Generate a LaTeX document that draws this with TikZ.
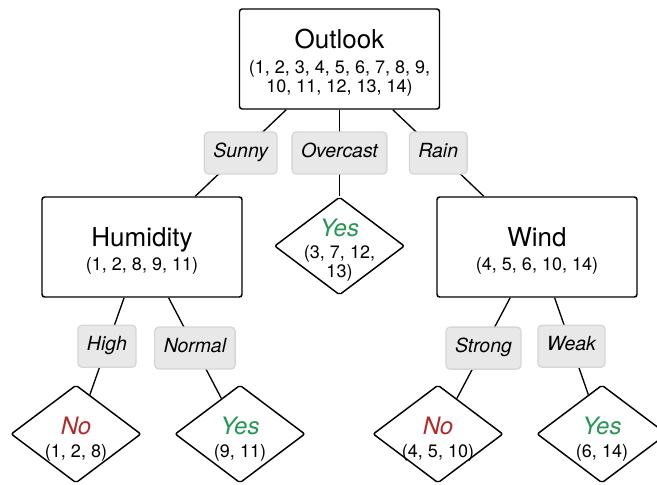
\documentclass[tikz,border=0pt]{standalone}
\usepackage{fontspec}
\setmainfont{TeX Gyre Heros}
\usetikzlibrary{shapes.geometric}

\definecolor{yesgreen}{RGB}{40,150,85}
\definecolor{nored}{RGB}{178,42,42}
\newcommand{\nodetitle}{\fontsize{19.5}{22}\selectfont\rule{0pt}{20pt}}
\newcommand{\leaftitle}{\fontsize{18}{20}\selectfont\itshape}

\tikzset{every picture/.style={line width=0.75pt}}
\tikzset{
  attrbox/.style={draw, line width=1.1pt, rounded corners=2pt, minimum width=150pt, minimum height=75pt, inner sep=0pt, align=center, font=\fontsize{13.5}{14.5}\selectfont},
  leafbox/.style={draw, diamond, line width=1.1pt, rounded corners=1.5pt, minimum width=97.5pt, minimum height=73.5pt, inner sep=0pt},
  leaftext/.style={align=center, inner sep=0pt, font=\fontsize{13.5}{14.5}\selectfont},
  branch/.style={draw=black!16, fill=black!9, rounded corners=3pt, text height=11pt, text depth=4pt, minimum height=31.5pt, inner xsep=6.75pt, inner ysep=0pt, font=\fontsize{14.6}{16}\selectfont\itshape},
  edge/.style={line width=1pt},
}

\begin{document}
\begin{tikzpicture}[x=0.75pt,y=0.75pt,yscale=-1,xscale=1]
\useasboundingbox (0,0) rectangle (657,485);

% Attribute Nodes
\node[attrbox] (outlook) at (339.5,59) {{\nodetitle Outlook}\\[4pt](1, 2, 3, 4, 5, 6, 7, 8, 9,\\10, 11, 12, 13, 14)};
\node[attrbox] (humidity) at (142,247) {{\nodetitle Humidity}\\[3pt](1, 2, 8, 9, 11)};
\node[attrbox] (wind) at (537,247) {{\nodetitle Wind}\\[3pt](4, 5, 6, 10, 14)};

% Leaf Nodes
\node[leafbox] (overcastyes) at (339.5,246) {};
\node[leaftext] at (339.5,250) {{\leaftitle\color{yesgreen}Yes}\\[2pt](3, 7, 12,\\13)};
\node[leafbox] (highno) at (76,434) {};
\node[leaftext] at (76,439) {{\leaftitle\color{nored}No}\\[3pt](1, 2, 8)};
\node[leafbox] (normalyes) at (240,434) {};
\node[leaftext] at (240,439) {{\leaftitle\color{yesgreen}Yes}\\[3pt](9, 11)};
\node[leafbox] (strongno) at (438,434) {};
\node[leaftext] at (438,439) {{\leaftitle\color{nored}No}\\[3pt](4, 5, 10)};
\node[leafbox] (weakyes) at (602,434) {};
\node[leaftext] at (602,439) {{\leaftitle\color{yesgreen}Yes}\\[3pt](6, 14)};

% Connections
\draw[edge] (outlook) -- node[branch] {Sunny} (humidity);
\draw[edge] (outlook) -- node[branch] {Overcast} (overcastyes);
\draw[edge] (outlook) -- node[branch] {Rain} (wind);
\draw[edge] (humidity) -- node[branch] {High} (highno);
\draw[edge] (humidity) -- node[branch] {Normal} (normalyes);
\draw[edge] (wind) -- node[branch] {Strong} (strongno);
\draw[edge] (wind) -- node[branch] {Weak} (weakyes);

\end{tikzpicture}
\end{document}
